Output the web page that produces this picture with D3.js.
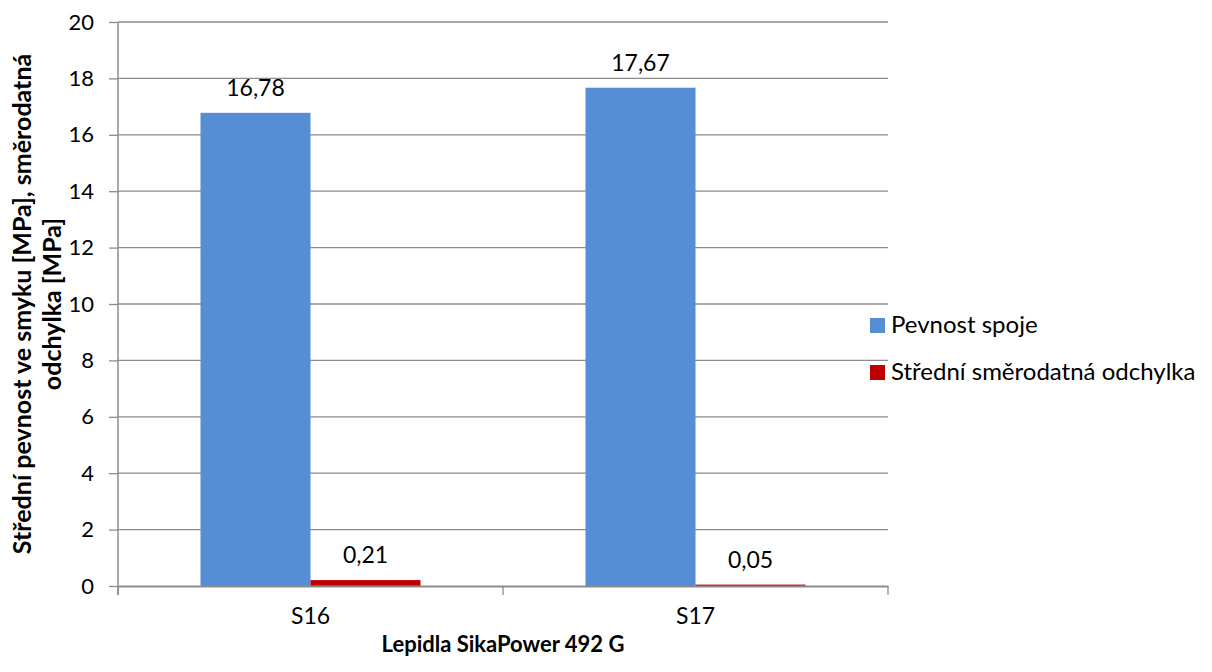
<!DOCTYPE html>
<html>
<head>
<meta charset="utf-8">
<script src="https://cdn.jsdelivr.net/npm/d3@7"></script>
<style>
  body { margin: 0; background: #fff; }
  svg { display: block; font-family: Lato, "Open Sans", sans-serif; }
</style>
</head>
<body>
<svg id="chart" width="1212" height="672"></svg>
<script>
const categories = ["S16", "S17"];
const seriesNames = ["Pevnost spoje", "Střední směrodatná odchylka"];
const strength = [16.78, 17.67];
const deviation = [0.21, 0.05];
const yTicks = [0, 2, 4, 6, 8, 10, 12, 14, 16, 18, 20];
const colors = ["#558ED5", "#C00000"];

const svg = d3.select("#chart");
const margin = { left: 118, right: 324, top: 22, bottom: 86 };
const W = 1212, H = 672;
const plotW = W - margin.left - margin.right;
const plotH = H - margin.top - margin.bottom;
const FONT = 22;

const g = svg.append("g").attr("transform", `translate(${margin.left},${margin.top})`);

const x0 = d3.scaleBand().domain(categories).range([0, plotW]).paddingInner(0).paddingOuter(0);
const x1 = d3.scaleBand().domain(seriesNames).range([0, x0.bandwidth()]).paddingInner(0).paddingOuter(0.75);
const y = d3.scaleLinear().domain([0, 20]).range([plotH, 0]);

// horizontal gridlines
g.append("g").selectAll("line").data(yTicks.filter(t => t > 0)).join("line")
  .attr("x1", 0).attr("x2", plotW)
  .attr("y1", d => y(d)).attr("y2", d => y(d))
  .attr("stroke", "#8c8c8c").attr("stroke-width", 1.3);

const fmt = v => v.toFixed(2).replace(".", ",");
const data = categories.map((c, i) => ({ cat: c, vals: [strength[i], deviation[i]] }));

const groups = g.selectAll("g.cat").data(data).join("g")
  .attr("class", "cat")
  .attr("transform", d => `translate(${x0(d.cat)},0)`);

groups.selectAll("rect").data(d => d.vals.map((v, j) => ({ name: seriesNames[j], v, j }))).join("rect")
  .attr("x", d => x1(d.name))
  .attr("width", x1.bandwidth())
  .attr("y", d => y(d.v))
  .attr("height", d => plotH - y(d.v))
  .attr("fill", d => colors[d.j]);

groups.selectAll("text.val").data(d => d.vals.map((v, j) => ({ name: seriesNames[j], v, j }))).join("text")
  .attr("class", "val")
  .attr("x", d => x1(d.name) + x1.bandwidth() / 2)
  .attr("y", d => y(d.v) - 17)
  .attr("text-anchor", "middle")
  .attr("font-size", 23)
  .attr("fill", "#000")
  .text(d => fmt(d.v));

// y axis
const yAxis = g.append("g").call(d3.axisLeft(y).tickValues(yTicks).tickSize(9).tickPadding(15).tickFormat(d => d));
yAxis.select(".domain").attr("stroke", "#8c8c8c").attr("stroke-width", 1.5).attr("d", `M0,${plotH + 9}V0`);
yAxis.selectAll(".tick line").attr("stroke", "#8c8c8c").attr("stroke-width", 1.3);
yAxis.selectAll(".tick text").attr("font-size", FONT).attr("fill", "#000").attr("font-family", "Lato, sans-serif");

// x axis
const xAxis = g.append("g").attr("transform", `translate(0,${plotH})`)
  .call(d3.axisBottom(x0).tickSize(0).tickPadding(22));
xAxis.select(".domain").attr("stroke", "#8c8c8c").attr("stroke-width", 2.2);
xAxis.selectAll(".tick text").attr("font-size", 23).attr("fill", "#000").attr("font-family", "Lato, sans-serif");
// category separators
g.append("g").selectAll("line").data([0, plotW / 2, plotW]).join("line")
  .attr("x1", d => d).attr("x2", d => d)
  .attr("y1", plotH).attr("y2", plotH + 9)
  .attr("stroke", "#8c8c8c").attr("stroke-width", 1.3);

// axis titles
svg.append("text")
  .attr("x", margin.left + plotW / 2).attr("y", 652)
  .attr("text-anchor", "middle").attr("font-weight", "bold").attr("font-size", 22)
  .text("Lepidla SikaPower 492 G");

const ytFont = 25;
const yMid = margin.top + plotH / 2;
svg.append("text")
  .attr("transform", `translate(31,${yMid}) rotate(-90)`)
  .attr("text-anchor", "middle").attr("font-weight", "bold").attr("font-size", ytFont)
  .text("Střední pevnost ve smyku [MPa], směrodatná");
svg.append("text")
  .attr("transform", `translate(61,${yMid}) rotate(-90)`)
  .attr("text-anchor", "middle").attr("font-weight", "bold").attr("font-size", ytFont)
  .text("odchylka [MPa]");

// legend
const legend = svg.append("g").attr("transform", "translate(870,318)");
seriesNames.forEach((n, i) => {
  const row = legend.append("g").attr("transform", `translate(0,${i * 47})`);
  row.append("rect").attr("width", 15).attr("height", 15).attr("fill", colors[i]);
  row.append("text").attr("x", 21).attr("y", 15).attr("font-size", 24).attr("fill", "#000").text(n);
});
</script>
</body>
</html>
